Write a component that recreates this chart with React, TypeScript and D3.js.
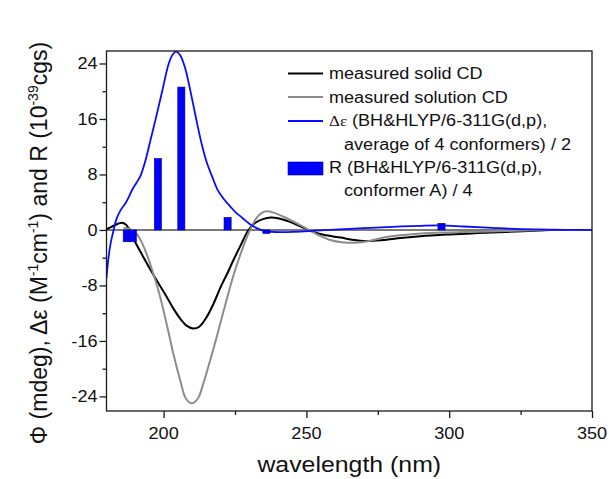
import React, { useRef, useEffect } from "react";
import * as d3 from "d3";

const WIDTH = 609;
const HEIGHT = 479;
const PLOT = { left: 106.5, top: 51, right: 592, bottom: 411 };
const FONT = "'Liberation Sans', Arial, sans-serif";
const SX = 1.13; // the reference text is a bit wider than plain Arial

// measured solid CD (wavelength nm, mdeg)
const solidWl = [180, 182, 184, 185.5, 187, 188.5, 190, 192.5, 195.5, 198.5, 201.3, 204, 206, 208, 210.3, 212.5, 215, 217.5, 220, 222.5, 224.5, 227, 229.7, 232, 235, 237.5, 240, 244, 248, 252, 256, 262, 266, 271, 276, 282, 290, 300, 310, 320, 330, 335];
const solidCd = [0.1, 0.5, 0.9, 1.05, 0.7, -0.4, -1.7, -3.6, -5.8, -7.9, -9.8, -11.7, -12.9, -13.8, -14.2, -13.95, -12.6, -10.6, -8.2, -6.1, -4.3, -2.2, 0, 1.0, 1.6, 1.8, 1.7, 1.2, 0.5, -0.2, -0.7, -1.1, -1.4, -1.6, -1.5, -1.2, -0.9, -0.65, -0.45, -0.28, -0.1, 0];

// measured solution CD
const solutionWl = [186, 188, 190, 192, 194, 196, 198.5, 201.3, 203.5, 205.9, 207.8, 209.9, 212, 214, 216.5, 218.6, 221, 224.5, 227, 229.2, 230.5, 232.5, 234.5, 236.2, 238.5, 242, 246, 250, 254, 258, 263, 267, 272, 277, 282, 290, 300, 310, 320, 330, 336];
const solutionCd = [0.3, 0.2, -0.3, -1.5, -3.4, -5.8, -9.2, -14.0, -18.0, -21.8, -24.3, -25.0, -24.3, -22.0, -18.5, -15.4, -11.7, -6.5, -3.4, -1.0, 0.2, 1.7, 2.5, 2.7, 2.5, 1.9, 1.1, 0.2, -0.7, -1.4, -1.8, -1.85, -1.6, -1.1, -0.8, -0.5, -0.35, -0.25, -0.15, -0.05, 0];

// calculated delta epsilon, average of 4 conformers / 2
const calcWl = [180, 180.7, 181.5, 182.5, 183.5, 185, 186.6, 188, 189, 190.5, 191.9, 193.5, 195.2, 197.1, 199.5, 201.8, 203.2, 204.4, 205.8, 207.5, 209.5, 211.5, 213.5, 215.3, 216.9, 219, 221, 223.3, 225.3, 227.4, 230, 233, 236, 242, 248, 253, 260, 270, 280, 290, 297, 305, 315, 325, 335, 350];
const calcDe = [-6.9, -4.0, -1.8, 0, 1.6, 2.9, 3.8, 4.9, 5.8, 6.8, 7.8, 9.8, 12.6, 15.8, 20.0, 24.0, 25.3, 25.7, 25.2, 23.4, 19.8, 15.8, 12.1, 9.5, 7.8, 5.7, 4.5, 3.4, 2.5, 1.8, 0.9, 0.2, -0.2, -0.3, -0.25, -0.1, 0.05, 0.25, 0.45, 0.6, 0.65, 0.5, 0.3, 0.12, 0.03, 0];

// rotational strengths, conformer A / 4
const stickWl = [187.1, 189.2, 198.0, 206.2, 222.4, 236.0, 297.3];
const stickR = [-1.7, -1.7, 10.3, 20.6, 1.8, -0.5, 0.95];

const xTicks = [200, 250, 300, 350];
const xMinor = [225, 275, 325];
const yTicks = [-24, -16, -8, 0, 8, 16, 24];
const yMinor = [-20, -12, -4, 4, 12, 20];

export default function App() {
  const svgRef = useRef<SVGSVGElement>(null);

  useEffect(() => {
    const svg = d3.select(svgRef.current);
    svg.selectAll("*").remove();

    const x = d3.scaleLinear().domain([180, 350]).range([PLOT.left, PLOT.right]);
    const y = d3.scaleLinear().domain([-26.1, 25.8]).range([PLOT.bottom, PLOT.top]);

    svg.append("rect").attr("width", WIDTH).attr("height", HEIGHT).attr("fill", "#fff");

    const clip = svg.append("defs").append("clipPath").attr("id", "plot-clip");
    clip
      .append("rect")
      .attr("x", PLOT.left)
      .attr("y", PLOT.top)
      .attr("width", PLOT.right - PLOT.left)
      .attr("height", PLOT.bottom - PLOT.top);

    const plot = svg.append("g").attr("clip-path", "url(#plot-clip)");

    // zero line
    plot
      .append("line")
      .attr("x1", PLOT.left)
      .attr("x2", PLOT.right)
      .attr("y1", y(0))
      .attr("y2", y(0))
      .attr("stroke", "#4d4d4d")
      .attr("stroke-width", 1.5);

    const line = d3
      .line<[number, number]>()
      .x((d) => x(d[0]))
      .y((d) => y(d[1]))
      .curve(d3.curveCatmullRom.alpha(0.5));

    const series = [
      { wl: solidWl, v: solidCd, color: "#000000", w: 2 },
      { wl: solutionWl, v: solutionCd, color: "#8c8c8c", w: 2 },
      { wl: calcWl, v: calcDe, color: "#0a0aff", w: 1.8 },
    ];
    series.forEach((s) => {
      plot
        .append("path")
        .attr("d", line(s.wl.map((w, i) => [w, s.v[i]] as [number, number])))
        .attr("fill", "none")
        .attr("stroke", s.color)
        .attr("stroke-width", s.w)
        .attr("stroke-linejoin", "round");
    });

    // sticks
    const barW = x(182.5) - x(180);
    stickWl.forEach((w, i) => {
      const v = stickR[i];
      plot
        .append("rect")
        .attr("x", x(w) - barW / 2)
        .attr("y", Math.min(y(v), y(0)))
        .attr("width", barW)
        .attr("height", Math.abs(y(v) - y(0)))
        .attr("fill", "#0000ff")
        .attr("stroke", "#00008a")
        .attr("stroke-width", 0.6);
    });

    // frame
    svg
      .append("rect")
      .attr("x", PLOT.left)
      .attr("y", PLOT.top)
      .attr("width", PLOT.right - PLOT.left)
      .attr("height", PLOT.bottom - PLOT.top)
      .attr("fill", "none")
      .attr("stroke", "#1a1a1a")
      .attr("stroke-width", 1.3);

    // axes (outward ticks)
    const xAxis = svg.append("g").attr("transform", `translate(0,${PLOT.bottom})`);
    xAxis.call(d3.axisBottom(x).tickValues(xTicks).tickSize(7).tickFormat(() => ""));
    xAxis.append("g").call(d3.axisBottom(x).tickValues(xMinor).tickSize(4).tickFormat(() => ""));
    const yAxis = svg.append("g").attr("transform", `translate(${PLOT.left},0)`);
    yAxis.call(d3.axisLeft(y).tickValues(yTicks).tickSize(7).tickFormat(() => ""));
    yAxis.append("g").call(d3.axisLeft(y).tickValues(yMinor).tickSize(4).tickFormat(() => ""));
    svg.selectAll(".domain").remove();
    svg.selectAll(".tick line").attr("stroke", "#1a1a1a").attr("stroke-width", 1.3);

    const label = (tx: number, ty: number, text: string, anchor: string, size: number) =>
      svg
        .append("text")
        .attr("transform", `translate(${tx},${ty}) scale(${SX},1)`)
        .attr("text-anchor", anchor)
        .attr("font-family", FONT)
        .attr("font-size", size)
        .attr("fill", "#111")
        .text(text);

    xTicks.forEach((t) => label(x(t), 439, String(t), "middle", 16));
    yTicks.forEach((t) => label(97.5, y(t) + 6, String(t), "end", 16));

    label((PLOT.left + PLOT.right) / 2, 472, "wavelength (nm)", "middle", 22);

    // y title with superscripts
    const yt = svg
      .append("text")
      .attr("transform", "translate(47,243) rotate(-90)")
      .attr("text-anchor", "middle")
      .attr("font-family", FONT)
      .attr("font-size", 23)
      .attr("fill", "#111");
    const parts: [string, boolean][] = [
      ["Φ (mdeg),  Δε (M", false],
      ["-1", true],
      ["cm", false],
      ["-1", true],
      [") and R (10", false],
      ["-39", true],
      ["cgs)", false],
    ];
    parts.forEach(([t, sup], i) => {
      const prevSup = i > 0 && parts[i - 1][1];
      yt.append("tspan")
        .attr("dy", sup ? -9 : prevSup ? 9 : 0)
        .attr("font-size", sup ? 14 : 23)
        .text(t);
    });

    // legend
    const lx0 = 288;
    const lx1 = 323;
    const legendLines = [
      { color: "#000000", yy: 73.5 },
      { color: "#8c8c8c", yy: 97 },
      { color: "#0a0aff", yy: 121 },
    ];
    legendLines.forEach((l) => {
      svg
        .append("line")
        .attr("x1", lx0)
        .attr("x2", lx1)
        .attr("y1", l.yy)
        .attr("y2", l.yy)
        .attr("stroke", l.color)
        .attr("stroke-width", 2);
    });
    svg
      .append("rect")
      .attr("x", lx0)
      .attr("y", 162)
      .attr("width", lx1 - lx0)
      .attr("height", 13)
      .attr("fill", "#0000ff")
      .attr("stroke", "#00008a")
      .attr("stroke-width", 0.6);

    label(329, 79, "measured solid CD", "start", 16);
    label(329, 102.5, "measured solution CD", "start", 16);
    const de = label(329, 126, "", "start", 16);
    de.append("tspan")
      .attr("font-family", "'Liberation Serif', 'Times New Roman', serif")
      .attr("font-size", 15)
      .text("Δε");
    de.append("tspan").text(" (BH&HLYP/6-311G(d,p),");
    label(344, 149.5, "average of 4 conformers) / 2", "start", 16);
    label(329, 173, "R (BH&HLYP/6-311G(d,p),", "start", 16);
    label(344, 196, "conformer A) / 4", "start", 16);
  }, []);

  return (
    <svg
      ref={svgRef}
      width={WIDTH}
      height={HEIGHT}
      style={{ position: "absolute", left: 0, top: 0, display: "block" }}
    />
  );
}
